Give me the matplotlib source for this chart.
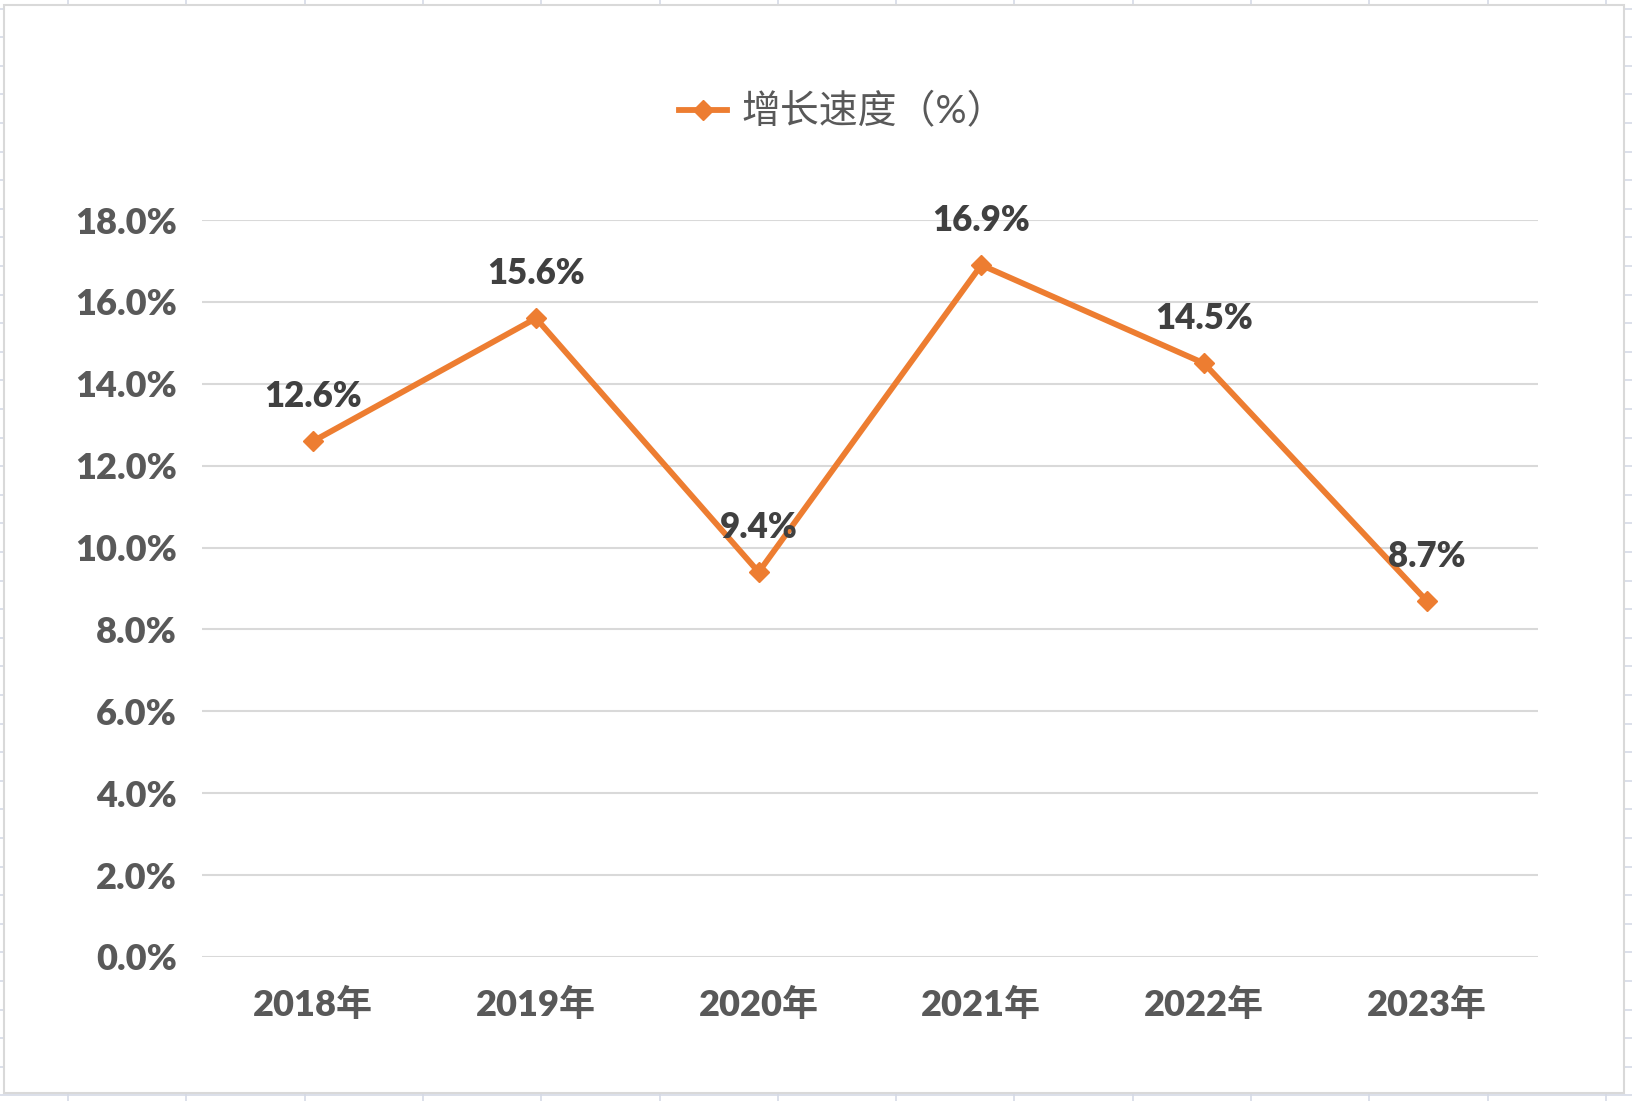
import numpy as np
import matplotlib
matplotlib.use('Agg')
import matplotlib.pyplot as plt
from matplotlib.patches import Rectangle
from matplotlib.lines import Line2D

# Dados
anos = ['2018年', '2019年', '2020年', '2021年', '2022年', '2023年']
crescimento = [12.6, 15.6, 9.4, 16.9, 14.5, 8.7]
yticks = [0, 2, 4, 6, 8, 10, 12, 14, 16, 18]
legenda = '增长速度（%）'

laranja = '#ED7D31'
cinza_tick = '#595959'
cinza_label = '#404040'
fonte = ['Lato', 'Noto Sans CJK SC', 'DejaVu Sans']
plt.rcParams['font.family'] = fonte

W, H = 1632, 1101
fig = plt.figure(figsize=(W / 100, H / 100), dpi=100)

# Fundo tipo planilha (linhas das células)
bg = fig.add_axes([0, 0, 1, 1], zorder=0)
bg.set_xlim(0, W)
bg.set_ylim(H, 0)
bg.axis('off')
for x in np.arange(68, W, 118.3):
    bg.axvline(x, color='#D5DAE6', lw=1.2, zorder=1)
for y in np.arange(8.5, H, 28.6):
    bg.axhline(y, color='#D5DAE6', lw=1.2, zorder=1)
bg.add_patch(Rectangle((4, 5), 1620, 1088, facecolor='white', edgecolor='#D9D9D9',
                       lw=1.5, zorder=5))

# Gráfico de linha
ax = fig.add_axes([202 / W, 1 - 957 / H, (1538 - 202) / W, (957 - 220) / H], zorder=1)
ax.patch.set_alpha(0)
x = np.arange(len(anos))
ax.plot(x, crescimento, color=laranja, lw=4.2, marker='D', markersize=10,
        solid_joinstyle='miter', zorder=3, clip_on=False)

for xi, v in zip(x, crescimento):
    ax.annotate(f'{v:.1f}%', (xi, v), xytext=(0, 32), textcoords='offset points',
                ha='center', va='center', fontsize=25, fontweight='heavy',
                color=cinza_label, zorder=4)

ax.set_xlim(-0.5, len(anos) - 0.5)
ax.set_ylim(0, 18)
ax.set_yticks(yticks)
ax.set_yticklabels([f'{t:.1f}%' for t in yticks])
ax.set_xticks(x)
ax.set_xticklabels(anos)
ax.tick_params(axis='both', length=0, labelsize=26, labelcolor=cinza_tick)
ax.tick_params(axis='y', pad=18)
ax.tick_params(axis='x', pad=22)
for lab in ax.get_xticklabels() + ax.get_yticklabels():
    lab.set_fontweight('heavy')

ax.grid(axis='y', color='#D9D9D9', lw=1.5)
ax.set_axisbelow(True)
for s in ax.spines.values():
    s.set_visible(False)

# Legenda
h = Line2D([], [], color=laranja, lw=4.2, marker='D', markersize=10)
fig.legend([h], [legenda], loc='center', bbox_to_anchor=(0.516, 1 - 112 / H),
           frameon=False, handlelength=1.25, handletextpad=0.35,
           labelcolor=cinza_tick, prop={'family': fonte, 'size': 28})

plt.savefig('out.png', dpi=100)
plt.close()
